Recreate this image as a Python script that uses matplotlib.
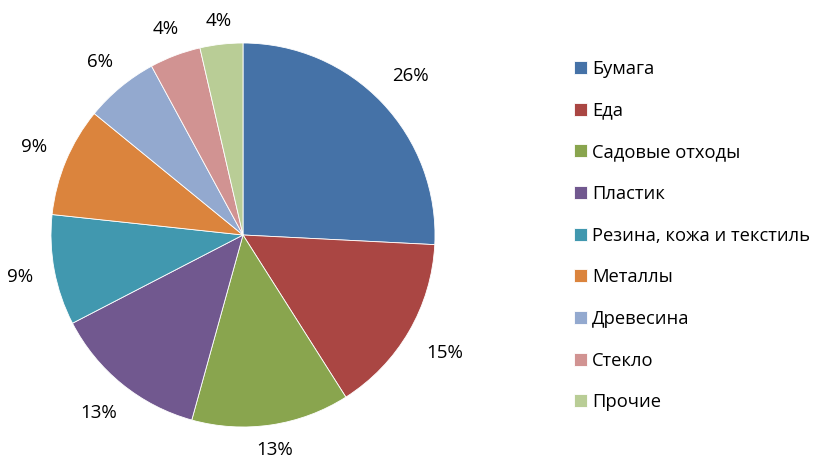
import matplotlib
matplotlib.use("Agg")
import numpy as np
import matplotlib.pyplot as plt

plt.rcParams['font.family'] = ['Open Sans', 'DejaVu Sans']

categories = ["Бумага", "Еда", "Садовые отходы", "Пластик",
              "Резина, кожа и текстиль", "Металлы", "Древесина",
              "Стекло", "Прочие"]
shares = [25.8, 15.2, 13.3, 13.1, 9.3, 9.2, 6.2, 4.3, 3.6]
colors = ["#4572A7", "#AA4643", "#89A54E", "#71588F", "#4198AF",
          "#DB843D", "#93A9CF", "#D19392", "#B9CD96"]

W, H = 814, 458
fig = plt.figure(figsize=(W / 100, H / 100), dpi=100)

# pie centre (243, 235) px, radius 192 px; axes spans +-1.3 radii
R = 192
half = 1.3 * R
cx, cy = 243, H - 235
ax = fig.add_axes([(cx - half) / W, (cy - half) / H, 2 * half / W, 2 * half / H])

wedges, texts, autotexts = ax.pie(
    shares, colors=colors, startangle=90, counterclock=False,
    autopct='%.0f%%', pctdistance=1.15,
    wedgeprops=dict(edgecolor='white', linewidth=0.6),
    textprops=dict(fontsize=13.5, color='black'))
ax.set_xlim(-1.3, 1.3)
ax.set_ylim(-1.3, 1.3)
ax.set_aspect('equal')
ax.axis('off')

# put each label just outside the rim, like "outside end" labels
fig.canvas.draw()
renderer = fig.canvas.get_renderer()
gap = 14  # px between rim and label
for w, t in zip(wedges, autotexts):
    t.set_clip_on(False)
    ang = np.deg2rad((w.theta1 + w.theta2) / 2)
    ux, uy = np.cos(ang), np.sin(ang)
    bb = t.get_window_extent(renderer)
    ext = abs(ux) * bb.width * 0.75 + abs(uy) * 7.5
    d = (R + gap + ext) / R
    t.set_position((d * ux, d * uy))

fig.legend(wedges, categories, loc='upper left',
           bbox_to_anchor=(574 / W, 1 - 60 / H), frameon=False,
           fontsize=13.2, handlelength=0.7, handleheight=0.7,
           handletextpad=0.3, labelspacing=1.29, borderpad=0,
           borderaxespad=0)

fig.savefig("out.png", dpi=100)
